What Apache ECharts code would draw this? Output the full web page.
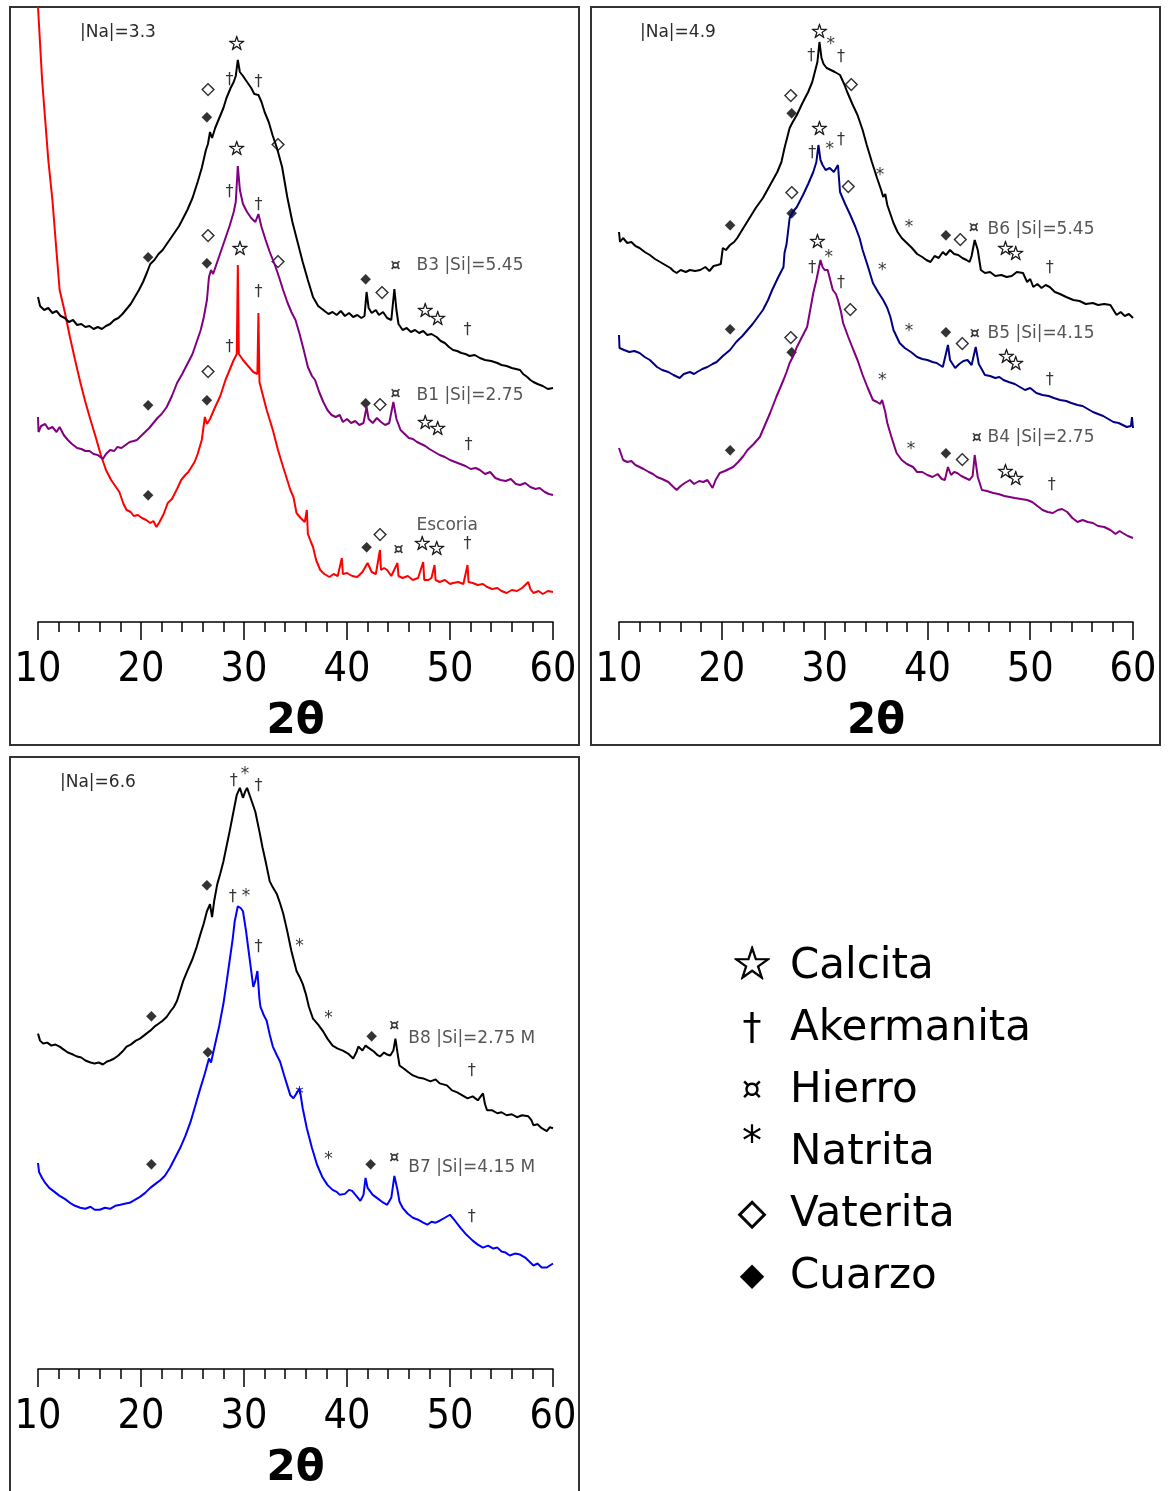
<!DOCTYPE html>
<html><head><meta charset="utf-8">
<script src="https://cdn.jsdelivr.net/npm/echarts@6/dist/echarts.min.js"></script>
<style>html,body{margin:0;padding:0;background:#fff}#c{width:1168px;height:1491px}</style>
</head><body><div id="c"></div>
<script>
// ---- data: 2θ (deg) vs relative intensity (arbitrary, stacked offsets as drawn) ----
const xTicks = [10, 20, 30, 40, 50, 60];
const panelTitles = ['|Na|=3.3', '|Na|=4.9', '|Na|=6.6'];

const B3 = [[10.0,325],[10.2,316],[10.6,312],[11.0,314],[11.4,309],[11.8,311],[12.2,306],[12.6,304],[13.0,300],[13.4,302],[13.8,297],[14.2,298],[14.6,295],[15.0,296],[15.4,293],[15.8,295],[16.2,293],[16.6,296],[17.0,298],[17.4,302],[17.8,304],[18.2,308],[18.6,313],[19.0,318],[19.4,325],[19.8,332],[20.2,340],[20.6,350],[20.9,358],[21.3,362],[21.7,368],[22.1,372],[22.5,378],[22.9,384],[23.3,390],[23.7,396],[24.1,404],[24.5,412],[25.0,424],[25.5,440],[25.9,454],[26.3,472],[26.5,478],[26.7,490],[26.9,484],[27.2,494],[27.6,504],[28.0,514],[28.3,524],[28.7,534],[29.0,540],[29.2,546],[29.4,562],[29.6,550],[29.9,546],[30.3,540],[30.7,534],[31.0,528],[31.4,527],[31.7,520],[32.0,510],[32.4,500],[32.8,486],[33.2,474],[33.7,455],[34.2,425],[34.7,400],[35.2,380],[35.7,360],[36.2,342],[36.7,325],[37.2,316],[37.7,312],[38.2,308],[38.6,310],[39.0,307],[39.4,311],[39.8,306],[40.2,309],[40.6,305],[41.0,307],[41.4,304],[41.7,306],[41.9,330],[42.1,314],[42.4,309],[42.8,312],[43.1,307],[43.5,310],[43.9,304],[44.3,302],[44.6,333],[44.8,312],[45.0,298],[45.4,292],[45.8,294],[46.2,290],[46.6,292],[47.0,289],[47.4,291],[47.8,287],[48.2,288],[48.7,285],[49.1,281],[49.5,279],[49.9,275],[50.3,272],[50.7,271],[51.1,269],[51.5,268],[51.9,266],[52.4,267],[52.9,264],[53.4,262],[54.0,261],[54.6,259],[55.0,257],[55.5,256],[56.0,254],[56.4,253],[56.8,252],[57.1,248],[57.5,245],[57.8,242],[58.1,240],[58.5,238],[59.0,236],[59.5,233],[60.0,234]];

const B1 = [[10.0,205],[10.05,190],[10.3,196],[10.7,198],[11.0,193],[11.4,195],[11.8,190],[12.1,195],[12.5,187],[12.9,182],[13.3,178],[13.8,174],[14.2,173],[14.6,171],[15.0,171],[15.4,168],[15.8,167],[16.3,163],[16.6,168],[17.0,172],[17.4,171],[17.7,175],[18.1,174],[18.5,177],[18.9,180],[19.3,181],[19.6,182],[20.0,186],[20.4,190],[20.8,194],[21.2,199],[21.6,204],[22.0,208],[22.5,215],[23.0,226],[23.5,239],[24.0,248],[24.5,258],[25.0,268],[25.4,280],[25.8,292],[26.1,305],[26.4,322],[26.6,345],[26.8,352],[27.0,348],[27.4,360],[27.8,372],[28.2,384],[28.6,396],[29.0,410],[29.2,420],[29.4,456],[29.6,432],[29.9,418],[30.3,410],[30.7,404],[31.1,400],[31.4,408],[31.7,395],[32.1,382],[32.5,370],[33.0,357],[33.4,345],[33.8,332],[34.2,320],[34.6,310],[35.0,302],[35.4,288],[35.8,272],[36.2,255],[36.6,246],[36.9,242],[37.3,230],[37.7,220],[38.1,212],[38.5,207],[38.9,205],[39.3,207],[39.6,200],[40.0,203],[40.4,199],[40.8,201],[41.2,197],[41.6,199],[41.9,215],[42.1,203],[42.5,199],[42.9,204],[43.3,200],[43.7,197],[44.1,199],[44.5,220],[44.8,203],[45.2,192],[45.6,188],[46.0,184],[46.4,183],[46.8,180],[47.2,178],[47.6,176],[48.0,173],[48.5,170],[49.0,167],[49.5,165],[50.0,162],[50.5,160],[51.0,158],[51.5,156],[52.0,153],[52.5,154],[52.9,152],[53.4,148],[53.9,150],[54.4,144],[54.9,142],[55.4,141],[55.9,143],[56.4,138],[56.8,137],[57.3,139],[57.8,135],[58.3,133],[58.7,134],[59.2,130],[59.6,128],[60.0,127]];

const ESCORIA = [[10.0,615],[10.4,542],[10.7,502],[11.0,462],[11.4,422],[11.8,370],[12.1,332],[12.6,310],[13.1,285],[13.6,262],[14.1,240],[14.6,220],[15.1,202],[15.6,185],[16.1,167],[16.6,152],[17.1,142],[17.5,136],[17.9,130],[18.3,118],[18.6,112],[19.0,110],[19.3,106],[19.7,107],[20.1,104],[20.5,102],[20.9,99],[21.2,101],[21.5,95],[21.8,100],[22.2,108],[22.6,119],[23.0,123],[23.5,133],[23.9,142],[24.3,147],[24.6,150],[24.9,155],[25.2,160],[25.5,168],[25.9,182],[26.2,205],[26.4,198],[26.7,203],[27.2,215],[27.7,226],[28.2,242],[28.6,252],[29.0,262],[29.3,268],[29.4,357],[29.5,268],[29.9,262],[30.4,256],[30.9,250],[31.3,248],[31.4,309],[31.5,240],[31.8,228],[32.2,212],[32.8,192],[33.3,172],[33.8,155],[34.2,142],[34.5,132],[34.8,125],[35.1,109],[35.5,104],[35.9,100],[36.1,112],[36.2,88],[36.5,80],[36.7,75],[37.0,62],[37.4,52],[37.8,48],[38.3,45],[38.7,48],[39.1,46],[39.5,64],[39.6,48],[40.0,49],[40.5,46],[41.0,45],[41.5,50],[42.0,59],[42.4,50],[42.8,48],[43.2,72],[43.3,52],[43.6,54],[43.9,52],[44.3,46],[44.9,59],[45.0,46],[45.4,44],[45.9,46],[46.4,42],[46.9,44],[47.4,60],[47.5,42],[47.9,42],[48.2,44],[48.5,57],[48.6,42],[49.0,40],[49.5,42],[50.0,38],[50.3,39],[50.8,40],[51.3,38],[51.7,57],[51.8,40],[52.2,39],[52.7,37],[53.2,38],[53.6,35],[54.1,33],[54.6,34],[55.0,31],[55.5,29],[56.0,32],[56.5,31],[57.0,34],[57.6,40],[57.8,33],[58.1,29],[58.6,31],[59.0,28],[59.5,31],[60.0,30]];

const B6 = [[10.0,390],[10.1,380],[10.4,384],[10.8,379],[11.2,380],[11.6,376],[12.0,374],[12.5,370],[13.0,367],[13.5,363],[14.0,360],[14.5,357],[15.0,354],[15.3,351],[15.6,349],[16.0,352],[16.5,350],[16.9,352],[17.4,351],[17.9,352],[18.4,355],[18.8,351],[19.2,356],[19.6,357],[19.9,358],[20.1,374],[20.4,372],[20.8,377],[21.2,380],[21.5,384],[22.1,394],[22.7,404],[23.3,414],[24.0,424],[24.7,437],[25.4,450],[25.8,460],[26.1,474],[26.4,486],[26.6,494],[26.9,500],[27.3,507],[27.8,518],[28.4,530],[28.8,540],[29.1,552],[29.3,560],[29.5,580],[29.7,564],[29.9,558],[30.2,554],[30.6,552],[31.0,550],[31.5,547],[31.9,538],[32.2,530],[32.7,518],[33.2,507],[33.7,492],[34.1,477],[34.6,460],[35.1,444],[35.5,432],[35.7,425],[35.9,428],[36.1,417],[36.4,408],[36.7,399],[37.1,390],[37.5,384],[38.0,379],[38.5,374],[39.0,368],[39.5,365],[39.9,362],[40.3,360],[40.7,366],[41.1,364],[41.5,370],[41.8,367],[42.2,372],[42.6,368],[43.0,367],[43.4,364],[43.8,362],[44.1,360],[44.3,366],[44.6,382],[44.9,372],[45.2,352],[45.6,349],[46.1,350],[46.6,346],[47.2,347],[47.7,345],[48.2,346],[48.7,350],[49.3,349],[49.7,340],[50.0,343],[50.3,335],[50.7,338],[51.1,334],[51.5,337],[51.9,335],[52.4,330],[52.9,328],[53.5,325],[54.2,322],[54.8,321],[55.4,318],[56.1,319],[56.6,317],[57.2,318],[57.8,317],[58.1,312],[58.4,307],[58.8,310],[59.2,306],[59.6,308],[60.0,304]];

const B5 = [[10.0,287],[10.05,274],[10.5,272],[11.0,270],[11.5,271],[12.0,269],[12.5,265],[13.0,262],[13.4,258],[13.7,255],[14.2,252],[14.8,250],[15.3,247],[15.9,244],[16.3,248],[16.9,250],[17.3,248],[17.6,250],[18.1,253],[18.6,255],[19.1,258],[19.5,260],[20.1,266],[20.8,272],[21.4,280],[22.0,286],[22.5,292],[23.0,298],[23.5,305],[24.0,312],[24.5,322],[24.9,332],[25.5,345],[26.0,355],[26.1,369],[26.3,378],[26.6,404],[26.9,410],[27.3,415],[27.9,427],[28.4,438],[28.9,450],[29.2,460],[29.4,477],[29.6,462],[29.8,457],[30.1,452],[30.5,454],[30.9,450],[31.3,457],[31.5,430],[32.0,418],[32.5,407],[33.0,395],[33.4,384],[33.7,372],[34.2,356],[34.7,339],[35.2,330],[35.7,322],[36.1,314],[36.4,305],[36.7,292],[37.3,279],[37.8,274],[38.4,270],[39.0,265],[39.5,263],[40.0,262],[40.5,260],[40.9,259],[41.2,257],[41.5,255],[42.0,277],[42.2,262],[42.7,254],[43.1,258],[43.5,261],[43.9,262],[44.3,257],[44.7,275],[45.0,258],[45.6,247],[46.1,246],[46.6,244],[47.0,245],[47.4,242],[47.9,240],[48.5,238],[49.0,235],[49.5,232],[50.0,234],[50.6,229],[51.2,227],[51.8,226],[52.3,224],[52.9,222],[53.5,221],[54.0,219],[54.6,217],[55.1,216],[55.6,213],[56.1,210],[56.6,208],[57.1,206],[57.6,203],[58.1,200],[58.6,199],[59.0,197],[59.4,195],[59.8,196],[59.9,205],[60.0,194]];

const B4 = [[10.0,174],[10.2,168],[10.4,162],[10.8,160],[11.2,161],[11.6,157],[12.0,155],[12.4,153],[12.9,150],[13.3,148],[13.7,145],[14.2,143],[14.8,140],[15.2,136],[15.6,132],[16.0,136],[16.4,139],[16.9,142],[17.3,138],[17.8,141],[18.2,140],[18.6,142],[19.1,134],[19.4,142],[19.8,149],[20.3,151],[20.7,153],[21.1,155],[21.6,160],[22.1,166],[22.5,172],[23.1,178],[23.7,185],[24.2,197],[24.7,209],[25.3,225],[26.0,242],[26.3,250],[26.6,259],[27.0,267],[27.3,275],[27.8,285],[28.3,295],[28.6,312],[28.9,329],[29.2,342],[29.4,352],[29.6,362],[29.8,355],[30.0,352],[30.3,352],[30.6,340],[30.8,332],[31.1,328],[31.3,322],[31.6,310],[31.8,299],[32.3,285],[32.8,272],[33.2,262],[33.7,247],[34.2,234],[34.7,222],[35.1,220],[35.4,218],[35.6,222],[35.9,210],[36.1,199],[36.5,185],[37.0,169],[37.5,162],[38.0,158],[38.6,155],[39.0,150],[39.5,150],[40.0,147],[40.5,145],[41.0,148],[41.4,143],[41.7,142],[42.0,155],[42.3,147],[42.6,150],[42.9,149],[43.3,146],[43.7,144],[44.1,142],[44.4,146],[44.6,167],[44.9,145],[45.3,132],[45.8,131],[46.4,129],[46.9,128],[47.5,126],[48.0,125],[48.5,124],[49.1,123],[49.7,122],[50.2,120],[50.7,116],[51.2,112],[51.7,110],[52.2,109],[52.7,112],[53.1,113],[53.6,110],[54.1,104],[54.6,100],[55.1,102],[55.6,100],[56.1,99],[56.6,96],[57.2,95],[57.8,92],[58.3,88],[58.7,91],[59.0,89],[59.5,86],[60.0,84]];

const B8 = [[10.0,337],[10.2,330],[10.5,327],[10.9,328],[11.3,325],[11.7,326],[12.1,324],[12.5,321],[12.9,318],[13.4,316],[13.8,314],[14.2,313],[14.6,310],[15.1,308],[15.5,307],[15.9,308],[16.3,306],[16.7,309],[17.0,310],[17.4,312],[17.8,315],[18.2,319],[18.6,324],[19.0,326],[19.5,330],[19.9,332],[20.4,336],[20.9,340],[21.3,344],[21.7,347],[22.1,350],[22.5,354],[22.9,360],[23.2,364],[23.5,370],[23.8,380],[24.1,390],[24.5,400],[25.0,412],[25.4,424],[25.8,438],[26.1,448],[26.4,460],[26.7,467],[26.9,454],[27.1,470],[27.4,487],[27.7,498],[28.0,510],[28.3,525],[28.6,540],[28.9,556],[29.3,577],[29.6,584],[29.9,574],[30.1,580],[30.3,584],[30.7,572],[31.1,560],[31.5,540],[31.8,524],[32.1,510],[32.5,490],[32.8,484],[33.2,477],[33.5,468],[33.8,458],[34.2,440],[34.6,420],[35.1,400],[35.4,394],[35.7,387],[36.0,377],[36.3,364],[36.7,352],[37.2,346],[37.7,339],[38.1,332],[38.6,325],[39.1,322],[39.6,320],[40.1,317],[40.6,312],[40.9,318],[41.1,324],[41.5,320],[41.8,325],[42.2,322],[42.6,319],[42.9,316],[43.2,314],[43.6,318],[43.9,316],[44.2,315],[44.5,320],[44.7,332],[44.9,318],[45.1,305],[45.5,302],[46.0,298],[46.4,295],[46.9,293],[47.4,292],[48.1,289],[48.6,291],[49.0,287],[49.7,285],[50.2,280],[50.7,278],[51.2,275],[51.7,272],[52.2,274],[52.7,270],[53.2,277],[53.4,266],[53.6,260],[54.1,260],[54.6,257],[55.0,258],[55.5,255],[56.0,256],[56.5,253],[57.0,255],[57.6,254],[57.9,250],[58.1,245],[58.5,246],[58.9,242],[59.4,239],[59.7,243],[60.0,242]];

const B7 = [[10.0,207],[10.1,198],[10.4,192],[10.7,187],[11.1,182],[11.6,178],[12.1,174],[12.6,171],[13.1,167],[13.6,164],[14.1,162],[14.6,161],[15.1,163],[15.5,160],[16.0,160],[16.5,162],[17.0,161],[17.5,164],[18.0,165],[18.4,166],[18.9,167],[19.4,170],[19.9,173],[20.4,177],[20.9,182],[21.4,186],[21.9,190],[22.3,194],[22.8,202],[23.3,212],[23.8,222],[24.3,234],[24.8,248],[25.2,262],[25.7,280],[26.2,297],[26.6,312],[26.8,308],[27.1,322],[27.6,345],[28.0,367],[28.3,388],[28.6,410],[28.9,432],[29.1,450],[29.4,465],[29.7,463],[29.9,460],[30.2,440],[30.4,424],[30.7,400],[30.9,384],[31.1,390],[31.3,400],[31.5,372],[31.6,364],[31.9,356],[32.2,350],[32.5,336],[32.8,324],[33.2,315],[33.5,309],[33.9,295],[34.2,285],[34.5,275],[34.8,272],[35.1,277],[35.4,282],[35.7,262],[36.1,242],[36.6,222],[37.1,205],[37.6,193],[38.1,185],[38.6,180],[39.0,178],[39.3,175],[39.8,176],[40.2,180],[40.5,179],[40.9,174],[41.3,169],[41.6,175],[41.8,192],[42.0,182],[42.5,175],[42.9,172],[43.4,168],[43.9,165],[44.3,172],[44.6,194],[44.9,180],[45.1,168],[45.4,162],[45.9,156],[46.4,152],[46.9,150],[47.4,147],[47.8,145],[48.2,148],[48.6,147],[49.0,149],[49.5,152],[50.0,155],[50.4,150],[50.7,146],[51.0,142],[51.5,136],[52.0,131],[52.2,129],[52.7,125],[53.2,122],[53.7,124],[54.2,121],[54.6,122],[55.0,118],[55.4,117],[55.8,114],[56.3,116],[56.8,115],[57.3,112],[57.7,108],[58.1,104],[58.5,106],[58.9,102],[59.4,102],[59.7,104],[60.0,106]];

// phase markers: [2θ, height, glyph]
const marks1 = [[29.3,577,'☆'],[26.5,532,'◇'],[28.6,542,'†'],[31.4,540,'†'],[26.4,505,'◆'],[33.3,477,'◇'],
  [29.3,472,'☆'],[28.6,430,'†'],[31.4,417,'†'],[26.5,386,'◇'],[26.4,359,'◆'],[20.7,365,'◆'],
  [29.6,372,'☆'],[33.3,360,'◇'],[31.4,330,'†'],[28.6,275,'†'],[26.5,250,'◇'],[26.4,222,'◆'],
  [20.7,217,'◆'],[20.7,127,'◆'],[41.8,343,'◆'],[43.4,329,'◇'],[44.7,356,'¤'],[47.6,310,'☆'],
  [48.8,302,'☆'],[51.7,292,'†'],[41.8,219,'◆'],[43.2,217,'◇'],[44.7,228,'¤'],[47.6,198,'☆'],
  [48.8,192,'☆'],[51.8,177,'†'],[41.9,75,'◆'],[43.2,87,'◇'],[45.0,72,'¤'],[47.3,77,'☆'],
  [48.7,72,'☆'],[51.7,78,'†']];
const labels1 = [[46.7,356,'B3 |Si|=5.45'],[46.7,226,'B1 |Si|=2.75'],[46.7,96,'Escoria']];

const marks2 = [[29.5,589,'☆'],[30.6,577,'*'],[28.7,566,'†'],[31.6,565,'†'],[26.7,526,'◇'],[32.6,537,'◇'],
  [26.8,509,'◆'],[29.5,492,'☆'],[30.5,472,'*'],[28.8,469,'†'],[31.6,482,'†'],[26.8,429,'◇'],
  [32.3,435,'◇'],[26.8,409,'◆'],[35.4,446,'*'],[20.8,397,'◆'],[38.2,394,'*'],[41.8,387,'◆'],
  [43.2,382,'◇'],[44.5,394,'¤'],[47.6,372,'☆'],[48.6,367,'☆'],[51.9,354,'†'],
  [29.3,379,'☆'],[30.4,364,'*'],[28.8,354,'†'],[31.6,339,'†'],[32.5,312,'◇'],[35.6,351,'*'],
  [26.7,284,'◇'],[26.8,270,'◆'],[20.8,293,'◆'],[38.2,290,'*'],[41.8,290,'◆'],[43.4,278,'◇'],
  [44.6,288,'¤'],[47.7,264,'☆'],[48.6,257,'☆'],[51.9,242,'†'],[35.6,241,'*'],[20.8,172,'◆'],
  [38.4,172,'*'],[41.8,169,'◆'],[43.4,162,'◇'],[44.8,184,'¤'],[47.6,149,'☆'],[48.6,142,'☆'],[52.1,137,'†']];
const labels2 = [[45.8,392,'B6 |Si|=5.45'],[45.8,288,'B5 |Si|=4.15'],[45.8,184,'B4 |Si|=2.75']];

const marks3 = [[29.0,591,'†'],[30.1,597,'*'],[31.4,586,'†'],[26.4,486,'◆'],[28.9,474,'†'],[30.2,475,'*'],
  [31.4,424,'†'],[35.4,424,'*'],[21.0,354,'◆'],[38.2,352,'*'],[42.4,334,'◆'],[44.6,345,'¤'],
  [52.1,300,'†'],[26.5,318,'◆'],[35.4,276,'*'],[21.0,206,'◆'],[38.2,210,'*'],[42.3,206,'◆'],
  [44.6,212,'¤'],[52.1,153,'†']];
const labels3 = [[45.9,332,'B8 |Si|=2.75 M'],[45.9,202,'B7 |Si|=4.15 M']];

const legendGlyphs = ['☆', '†', '¤', '*', '◇', '◆'];
const legendNames = ['Calcita', 'Akermanita', 'Hierro', 'Natrita', 'Vaterita', 'Cuarzo'];

// ---- chart ----
const chart = echarts.init(document.getElementById('c'));
const FONT = 'DejaVu Sans';
const grids = [
  {left: 38, top: 7, width: 515, height: 615},
  {left: 619, top: 7, width: 514, height: 615},
  {left: 38, top: 757, width: 515, height: 615}
];
function xAx(i) {
  return {
    gridIndex: i, type: 'value', min: xTicks[0], max: xTicks[xTicks.length - 1], interval: 10,
    axisLine: {show: true, onZero: false, lineStyle: {color: '#000', width: 1.5}},
    axisTick: {show: true, length: 18, lineStyle: {color: '#000', width: 1.5}},
    minorTick: {show: true, splitNumber: 5, length: 10, lineStyle: {color: '#000', width: 1.5}},
    splitLine: {show: false},
    axisLabel: {fontSize: 41, fontFamily: 'DejaVu Sans Condensed, DejaVu Sans', color: '#000', margin: 28, showMinLabel: true, showMaxLabel: true},
    name: '2θ', nameLocation: 'middle', nameGap: 79,
    nameTextStyle: {fontSize: 42, fontWeight: 'bold', fontFamily: FONT, color: '#000'}
  };
}
function yAx(i) { return {gridIndex: i, type: 'value', min: 0, max: 615, show: false}; }

function line(i, data, color) {
  return {type: 'line', xAxisIndex: i, yAxisIndex: i, data: data, showSymbol: false, symbol: 'none',
    lineStyle: {color: color, width: 2}, animation: false, silent: true, clip: true};
}
const glyphStyle = {'☆': 'st', '†': 'dg', '¤': 'cu', '*': 'as', '◇': 'vd', '◆': 'fd'};
const rich = {
  st: {fontSize: 20, fontFamily: FONT, color: '#000', textBorderColor: '#000', textBorderWidth: 0.7},
  dg: {fontSize: 16, fontFamily: FONT, color: '#000'},
  cu: {fontSize: 15, fontFamily: FONT, color: '#000', textBorderColor: '#000', textBorderWidth: 0.4},
  as: {fontSize: 17, fontFamily: FONT, color: '#000'},
  vd: {fontSize: 17, fontFamily: FONT, color: '#000', textBorderColor: '#000', textBorderWidth: 0.5},
  fd: {fontSize: 14, fontFamily: FONT, color: '#000'}
};
function markSeries(i, marks) {
  return {type: 'scatter', xAxisIndex: i, yAxisIndex: i, data: marks, symbol: 'circle', symbolSize: 1,
    itemStyle: {color: 'rgba(0,0,0,0)'}, animation: false, silent: true,
    label: {show: true, position: 'inside', formatter: p => '{' + glyphStyle[p.data[2]] + '|' + p.data[2] + '}', rich: rich}};
}
function labelSeries(i, labs) {
  return {type: 'scatter', xAxisIndex: i, yAxisIndex: i, data: labs, symbol: 'circle', symbolSize: 1,
    itemStyle: {color: 'rgba(0,0,0,0)'}, animation: false, silent: true,
    label: {show: true, position: 'right', distance: 0, formatter: p => p.data[2],
      fontSize: 17, fontFamily: FONT, color: '#2a2a2a'}};
}

const graphics = [
  {type: 'rect', shape: {x: 10, y: 7, width: 569, height: 738}, style: {fill: 'none', stroke: '#333', lineWidth: 2}},
  {type: 'rect', shape: {x: 591, y: 7, width: 569, height: 738}, style: {fill: 'none', stroke: '#333', lineWidth: 2}},
  {type: 'rect', shape: {x: 10, y: 757, width: 569, height: 800}, style: {fill: 'none', stroke: '#333', lineWidth: 2}},
  {type: 'text', style: {x: 80, y: 33, text: panelTitles[0], fontSize: 17, fontFamily: FONT, fill: '#2a2a2a', verticalAlign: 'middle'}},
  {type: 'text', style: {x: 640, y: 33, text: panelTitles[1], fontSize: 17, fontFamily: FONT, fill: '#2a2a2a', verticalAlign: 'middle'}},
  {type: 'text', style: {x: 60, y: 783, text: panelTitles[2], fontSize: 17, fontFamily: FONT, fill: '#2a2a2a', verticalAlign: 'middle'}}
];
const legendSizes = [46, 38, 32, 40, 36, 32];
const legendDy = [0, 0, 0, -8, 0, 0];
legendGlyphs.forEach((g, k) => {
  const y = 967 + k * 62;
  graphics.push({type: 'text', style: {x: 752, y: y + legendDy[k], text: g, fontSize: legendSizes[k], fontFamily: FONT, fill: '#000', align: 'center', verticalAlign: 'middle',
    stroke: '#000', lineWidth: (g === '☆' || g === '◇') ? 1 : 0}});
  graphics.push({type: 'text', style: {x: 790, y: y, text: legendNames[k], fontSize: 42, fontFamily: FONT, fill: '#000', align: 'left', verticalAlign: 'middle'}});
});

chart.setOption({
  animation: false,
  backgroundColor: '#fff',
  grid: grids,
  xAxis: [xAx(0), xAx(1), xAx(2)],
  yAxis: [yAx(0), yAx(1), yAx(2)],
  series: [
    line(0, ESCORIA, '#ff0000'), line(0, B1, '#800080'), line(0, B3, '#000000'),
    line(1, B4, '#800080'), line(1, B5, '#000080'), line(1, B6, '#000000'),
    line(2, B7, '#0000ff'), line(2, B8, '#000000'),
    markSeries(0, marks1), labelSeries(0, labels1),
    markSeries(1, marks2), labelSeries(1, labels2),
    markSeries(2, marks3), labelSeries(2, labels3)
  ],
  graphic: graphics
});
</script></body></html>
